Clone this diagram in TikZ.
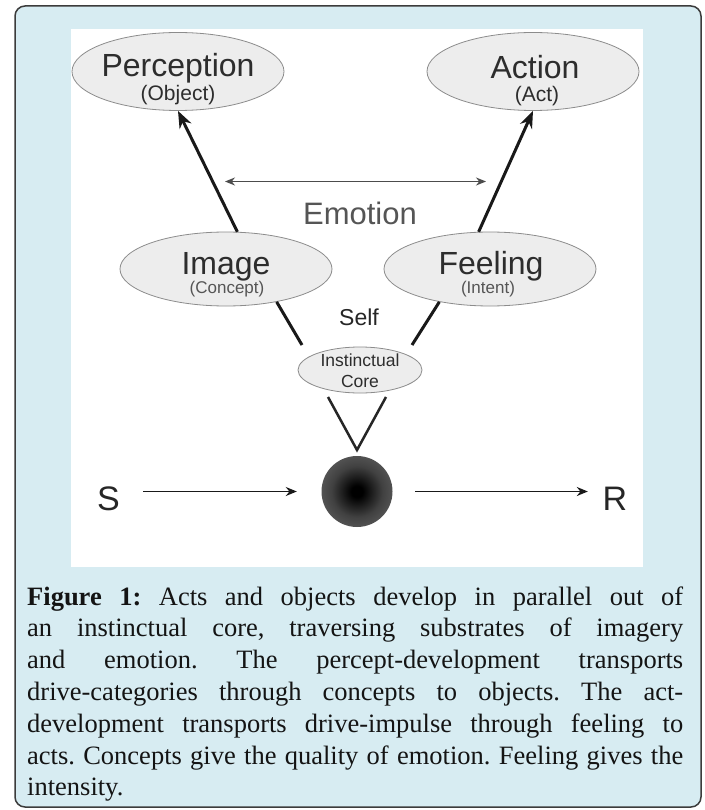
\documentclass[tikz,border=0pt]{standalone}
\usepackage{fontspec}
\setmainfont{Liberation Serif}
\setsansfont{Liberation Sans}
\usetikzlibrary{shapes.geometric,arrows.meta,calc}
\definecolor{boxblue}{RGB}{215,236,242}
\definecolor{boxline}{RGB}{60,60,60}
\definecolor{ovalfill}{RGB}{237,237,237}
\definecolor{ovalline}{RGB}{140,140,140}
\definecolor{txtdark}{RGB}{45,45,45}
\definecolor{txtgray}{RGB}{85,85,85}
\definecolor{ballmid}{RGB}{65,65,65}
\definecolor{ballrim}{RGB}{105,105,105}
\definecolor{captext}{RGB}{20,20,20}
\pgfdeclareradialshading{ballshade}{\pgfpointorigin}{color(0bp)=(black); color(4bp)=(black); color(18bp)=(ballmid); color(35bp)=(ballrim); color(75bp)=(ballrim)}
\begin{document}
\begin{tikzpicture}[x=1pt,y=-1pt,font=\sffamily,
  oval/.style={ellipse, draw=ovalline, fill=ovalfill, line width=0.8pt, inner sep=0pt},
  biglabel/.style={font=\fontsize{32}{32}\selectfont\sffamily, text=txtdark, anchor=base, inner sep=0pt},
  sublabel/.style={font=\fontsize{21}{21}\selectfont\sffamily, text=txtdark, anchor=base, inner sep=0pt},
  smalllabel/.style={font=\fontsize{17}{17}\selectfont\sffamily, text=txtgray, anchor=base, inner sep=0pt},
  corelabel/.style={font=\fontsize{17.5}{17.5}\selectfont\sffamily, text=txtdark, anchor=base, inner sep=0pt},
  emolabel/.style={font=\fontsize{31}{31}\selectfont\sffamily, text=txtgray, anchor=base, inner sep=0pt},
  selflabel/.style={font=\fontsize{23}{23}\selectfont\sffamily, text=black!85, anchor=base, inner sep=0pt},
  srlabel/.style={font=\fontsize{34}{34}\selectfont\sffamily, text=black!85, anchor=base, inner sep=0pt},
  thickarrow/.style={line width=3pt, draw=black!90, -{Stealth[length=17pt,width=13pt]}},
  thickline/.style={line width=3pt, draw=black!90},
  vline/.style={line width=2.5pt, draw=black!85},
  emoarrow/.style={line width=1.3pt, draw=black!70, {Stealth[length=10pt,width=8pt]}-{Stealth[length=10pt,width=8pt]}},
  srarrow/.style={line width=1.6pt, draw=black!90, -{Stealth[length=11pt,width=9pt]}}
]
\useasboundingbox (0,0) rectangle (704,810);
\draw[rounded corners=10pt, fill=boxblue, draw=boxline, line width=1.5pt] (15,6) rectangle (701,807);
\fill[white] (71,29) rectangle (643,567);

% ellipses
\node[oval, minimum width=212pt, minimum height=78pt] (perc) at (178,71.5) {};
\node[oval, minimum width=212pt, minimum height=78pt] (act) at (533,71.5) {};
\node[oval, minimum width=212pt, minimum height=74pt] (img) at (226,269) {};
\node[oval, minimum width=212pt, minimum height=74pt] (feel) at (490,269) {};
\node[oval, minimum width=124pt, minimum height=46pt] (core) at (360,370) {};
\node[circle, minimum size=71pt, inner sep=0pt, shading=ballshade] (ball) at (357,491.5) {};

% labels
\node[biglabel] (percT) at (178,77) {Perception};
\node[sublabel] (percS) at (178,100.5) {(Object)};
\node[biglabel] (actT) at (535,79) {Action};
\node[sublabel] (actS) at (537,101.5) {(Act)};
\node[biglabel] (imgT) at (226,274) {Image};
\node[smalllabel] (imgS) at (227,293) {(Concept)};
\node[biglabel] (feelT) at (491,274) {Feeling};
\node[smalllabel] (feelS) at (488,293) {(Intent)};
\node[corelabel] (coreA) at (360,366) {Instinctual};
\node[corelabel] (coreB) at (360,387) {Core};
\node[emolabel] (emo) at (360,225) {Emotion};
\node[selflabel] (self) at (359,325) {Self};
\node[srlabel] (S) at (108.5,510) {S};
\node[srlabel] (R) at (615,510) {R};

% connectors
\draw[thickarrow] (img.73) -- (perc.south);
\draw[thickarrow] (feel.107) -- (act.south);
\coordinate (el) at (225,181.5);
\coordinate (er) at (486,181.5);
\draw[emoarrow] (el) -- (er);
\coordinate (cl) at (302,345);
\coordinate (cr) at (412,345);
\draw[thickline] (img.-33) -- (cl);
\draw[thickline] (feel.213) -- (cr);
\coordinate (vl) at (328,397);
\coordinate (vapex) at (357,450);
\coordinate (vr) at (386,397);
\draw[vline, line join=miter] (vl) -- (vapex) -- (vr);
\draw[srarrow, shorten <=23pt, shorten >=24.5pt] (S.east |- ball.center) -- (ball.west);
\draw[srarrow, shorten <=22.5pt, shorten >=14.7pt] (ball.east) -- (R.west |- ball.center);

% caption
\node[anchor=base west, inner sep=0pt, text=captext] (caption) at (27,605) {\parbox[t]{656pt}{\rmfamily\fontsize{26.5}{31.8}\selectfont\frenchspacing
\makebox[656pt][s]{\textbf{Figure 1:} Acts and objects develop in parallel out of}\\
\makebox[656pt][s]{an instinctual core, traversing substrates of imagery}\\
\makebox[656pt][s]{and emotion. The percept-development transports}\\
\makebox[656pt][s]{drive-categories through concepts to objects. The act-}\\
\makebox[656pt][s]{development transports drive-impulse through feeling to}\\
\makebox[656pt][s]{acts. Concepts give the quality of emotion. Feeling gives the}\\
intensity.}};
\end{tikzpicture}
\end{document}
